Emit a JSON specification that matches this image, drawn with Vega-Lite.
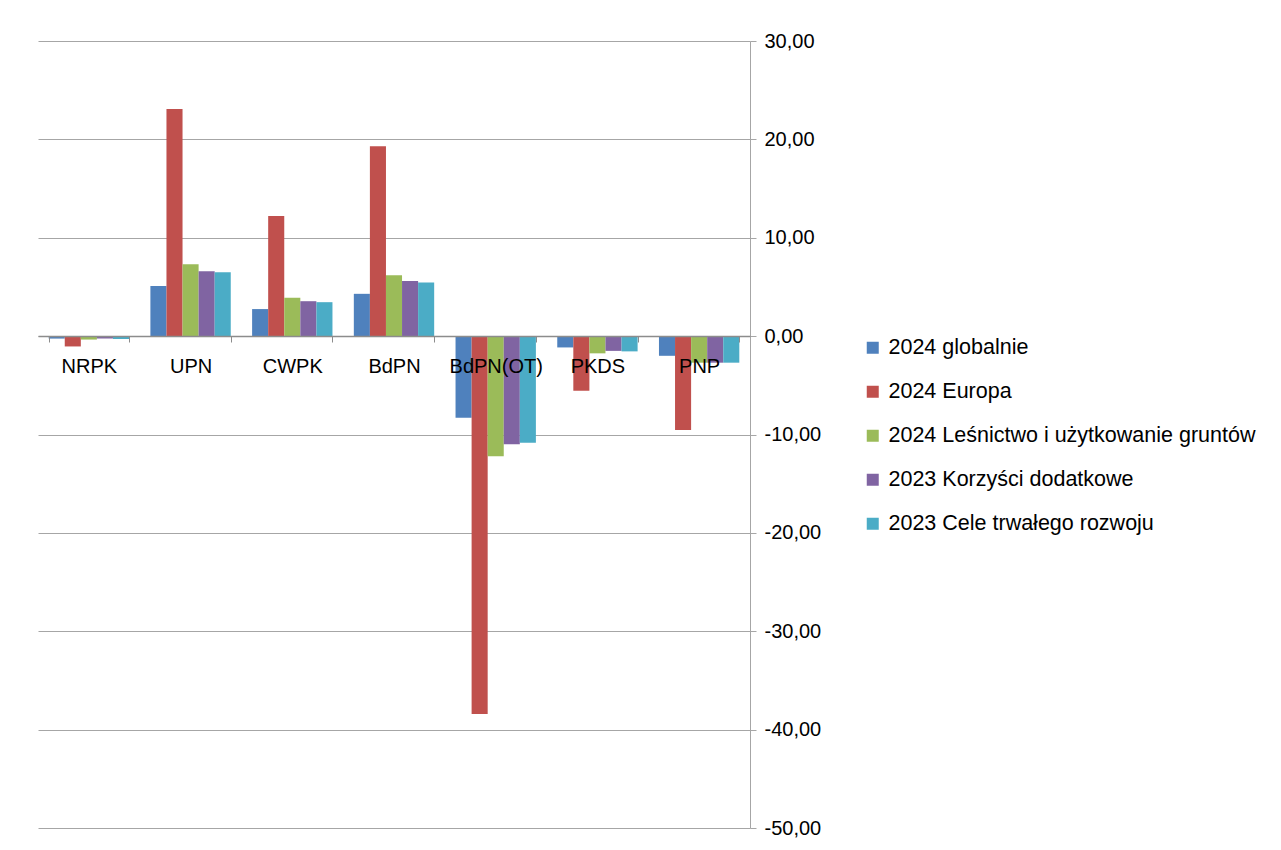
{
  "$schema": "https://vega.github.io/schema/vega-lite/v6.json",
  "width": 712,
  "height": 787,
  "autosize": {"type": "none"},
  "padding": {"left": 38, "top": 41, "right": 531, "bottom": 22},
  "background": "white",
  "config": {
    "view": {"stroke": null},
    "font": "Liberation Sans",
    "axis": {"labelFont": "Liberation Sans", "labelColor": "#000000"}
  },
  "data": {
    "values": [
      {"category": "NRPK", "series": "2024 globalnie", "value": -0.25},
      {"category": "NRPK", "series": "2024 Europa", "value": -1.05},
      {"category": "NRPK", "series": "2024 Leśnictwo i użytkowanie gruntów", "value": -0.35},
      {"category": "NRPK", "series": "2023 Korzyści dodatkowe", "value": -0.25},
      {"category": "NRPK", "series": "2023 Cele trwałego rozwoju", "value": -0.3},
      {"category": "UPN", "series": "2024 globalnie", "value": 5.1},
      {"category": "UPN", "series": "2024 Europa", "value": 23.1},
      {"category": "UPN", "series": "2024 Leśnictwo i użytkowanie gruntów", "value": 7.3},
      {"category": "UPN", "series": "2023 Korzyści dodatkowe", "value": 6.6},
      {"category": "UPN", "series": "2023 Cele trwałego rozwoju", "value": 6.5},
      {"category": "CWPK", "series": "2024 globalnie", "value": 2.75},
      {"category": "CWPK", "series": "2024 Europa", "value": 12.2},
      {"category": "CWPK", "series": "2024 Leśnictwo i użytkowanie gruntów", "value": 3.9},
      {"category": "CWPK", "series": "2023 Korzyści dodatkowe", "value": 3.55},
      {"category": "CWPK", "series": "2023 Cele trwałego rozwoju", "value": 3.45},
      {"category": "BdPN", "series": "2024 globalnie", "value": 4.3},
      {"category": "BdPN", "series": "2024 Europa", "value": 19.3},
      {"category": "BdPN", "series": "2024 Leśnictwo i użytkowanie gruntów", "value": 6.2},
      {"category": "BdPN", "series": "2023 Korzyści dodatkowe", "value": 5.6},
      {"category": "BdPN", "series": "2023 Cele trwałego rozwoju", "value": 5.45},
      {"category": "BdPN(OT)", "series": "2024 globalnie", "value": -8.3},
      {"category": "BdPN(OT)", "series": "2024 Europa", "value": -38.4},
      {"category": "BdPN(OT)", "series": "2024 Leśnictwo i użytkowanie gruntów", "value": -12.2},
      {"category": "BdPN(OT)", "series": "2023 Korzyści dodatkowe", "value": -11.0},
      {"category": "BdPN(OT)", "series": "2023 Cele trwałego rozwoju", "value": -10.85},
      {"category": "PKDS", "series": "2024 globalnie", "value": -1.15},
      {"category": "PKDS", "series": "2024 Europa", "value": -5.55},
      {"category": "PKDS", "series": "2024 Leśnictwo i użytkowanie gruntów", "value": -1.75},
      {"category": "PKDS", "series": "2023 Korzyści dodatkowe", "value": -1.5},
      {"category": "PKDS", "series": "2023 Cele trwałego rozwoju", "value": -1.55},
      {"category": "PNP", "series": "2024 globalnie", "value": -2.0},
      {"category": "PNP", "series": "2024 Europa", "value": -9.55},
      {"category": "PNP", "series": "2024 Leśnictwo i użytkowanie gruntów", "value": -2.7},
      {"category": "PNP", "series": "2023 Korzyści dodatkowe", "value": -2.7},
      {"category": "PNP", "series": "2023 Cele trwałego rozwoju", "value": -2.7}
    ]
  },
  "mark": {"type": "bar"},
  "encoding": {
    "x": {
      "field": "category",
      "type": "nominal",
      "sort": ["NRPK", "UPN", "CWPK", "BdPN", "BdPN(OT)", "PKDS", "PNP"],
      "scale": {"paddingInner": 0.21, "paddingOuter": 0.105},
      "axis": {
        "title": null,
        "orient": "bottom",
        "offset": -492,
        "labelAngle": 0,
        "labelFontSize": 20,
        "labelPadding": 14,
        "domain": true,
        "domainColor": "#8c8c8c",
        "domainWidth": 1.5,
        "ticks": true,
        "tickBand": "extent",
        "tickColor": "#8c8c8c",
        "tickSize": 6,
        "grid": false,
        "zindex": 1
      }
    },
    "xOffset": {
      "field": "series",
      "type": "nominal",
      "sort": ["2024 globalnie", "2024 Europa", "2024 Leśnictwo i użytkowanie gruntów", "2023 Korzyści dodatkowe", "2023 Cele trwałego rozwoju"],
      "scale": {"paddingInner": 0, "paddingOuter": 0}
    },
    "y": {
      "field": "value",
      "type": "quantitative",
      "scale": {"domain": [-50, 30], "nice": false, "zero": false},
      "axis": {
        "title": null,
        "orient": "right",
        "values": [-50, -40, -30, -20, -10, 0, 10, 20, 30],
        "labelExpr": "replace(replace(format(datum.value, '.2f'), '.', ','), '\u2212', '-')",
        "labelFontSize": 20,
        "labelPadding": 8,
        "domain": true,
        "domainColor": "#a6a6a6",
        "tickColor": "#a6a6a6",
        "tickSize": 6,
        "grid": true,
        "gridColor": "#a6a6a6",
        "gridWidth": 1
      }
    },
    "color": {
      "field": "series",
      "type": "nominal",
      "sort": ["2024 globalnie", "2024 Europa", "2024 Leśnictwo i użytkowanie gruntów", "2023 Korzyści dodatkowe", "2023 Cele trwałego rozwoju"],
      "scale": {
        "domain": ["2024 globalnie", "2024 Europa", "2024 Leśnictwo i użytkowanie gruntów", "2023 Korzyści dodatkowe", "2023 Cele trwałego rozwoju"],
        "range": ["#4F81BD", "#C0504D", "#9BBB59", "#8064A2", "#4BACC6"]
      },
      "legend": {
        "title": null,
        "orient": "none",
        "legendX": 824,
        "legendY": 296,
        "symbolType": "square",
        "symbolSize": 144,
        "symbolStrokeWidth": 0,
        "labelFontSize": 21.5,
        "labelColor": "#000000",
        "labelFont": "Liberation Sans",
        "rowPadding": 21,
        "labelOffset": 5,
        "labelLimit": 500
      }
    }
  }
}
